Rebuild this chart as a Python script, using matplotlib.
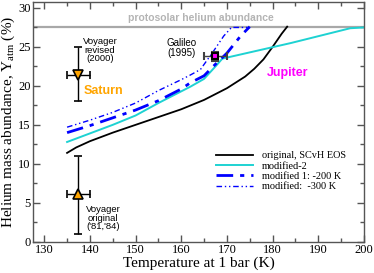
import matplotlib
matplotlib.use("Agg")
import matplotlib.pyplot as plt
from matplotlib.ticker import MultipleLocator

plt.rcParams['font.family'] = ['Liberation Serif', 'DejaVu Serif']
plt.rcParams['mathtext.fontset'] = 'custom'
plt.rcParams['mathtext.rm'] = 'Liberation Serif'
plt.rcParams['mathtext.it'] = 'Liberation Serif:italic'

# --- dane ---
T_orig = [135, 137, 140, 145, 150, 155, 160, 165, 170, 174, 176, 178, 180, 182, 183.2]
Y_orig = [11.4, 12.1, 12.9, 14.0, 15.0, 16.0, 17.0, 18.2, 19.7, 21.2, 22.2, 23.4, 25.0, 26.7, 27.6]

T_mod2 = [135, 140, 145, 150, 155, 160, 162, 165, 167.5, 169, 184, 197, 200]
Y_mod2 = [12.8, 13.9, 15.0, 16.2, 17.8, 19.3, 19.9, 20.9, 22.5, 23.5, 25.5, 27.4, 27.5]

T_mod1 = [135, 140, 145, 150, 155, 160, 162, 165, 167, 170, 173, 175]
Y_mod1 = [14.0, 14.9, 15.9, 16.9, 18.1, 19.6, 20.4, 21.3, 22.5, 24.2, 26.4, 27.6]

T_mod300 = [135, 140, 145, 150, 155, 160, 162, 164.2, 167, 169.3, 171, 175]
Y_mod300 = [14.7, 15.6, 16.6, 17.8, 19.4, 20.8, 21.4, 22.1, 24.4, 26.4, 27.5, 27.5]

labels = ['original, SCvH EOS', 'modified-2', 'modified 1: -200 K', 'modified:  -300 K']

protosolar_Y = 27.5

# Saturn (Voyager) i Jupiter (Galileo)
sat_T = [137.5, 137.5]
sat_Y = [21.4, 6.1]
sat_Terr = [2.5, 2.5]
sat_Yerr = [[3.4, 3.6], [5.1, 4.9]]  # dol, gora
gal_T = 167.5
gal_Y = 23.8
gal_Terr = 2.5
gal_Yerr = 0.6

fig = plt.figure(figsize=(3.74, 2.73), dpi=100)
ax = fig.add_axes([0.089, 0.1146, 0.884, 0.879])

ax.axhline(protosolar_Y, color='#a8a8a8', lw=1.6, zorder=1)

ax.plot(T_orig, Y_orig, color='black', lw=1.3, label=labels[0])
ax.plot(T_mod2, Y_mod2, color='#1ed2d2', lw=1.4, label=labels[1])
ax.plot(T_mod1, Y_mod1, color='#0000ff', lw=2.0, dashes=(6, 2.5, 1.5, 2.5), label=labels[2])
ax.plot(T_mod300, Y_mod300, color='#0000ff', lw=1.0, dashes=(4, 2, 1, 2, 1, 2), label=labels[3])

# Voyager
ax.errorbar(sat_T[0], sat_Y[0], xerr=sat_Terr[0], yerr=[[sat_Yerr[0][0]], [sat_Yerr[0][1]]],
            fmt='v', ms=7, mfc='#ffa500', mec='black', mew=1.2, ecolor='black',
            elinewidth=1.0, capsize=3, capthick=1.0, zorder=5)
ax.errorbar(sat_T[1], sat_Y[1], xerr=sat_Terr[1], yerr=[[sat_Yerr[1][0]], [sat_Yerr[1][1]]],
            fmt='^', ms=7, mfc='#ffa500', mec='black', mew=1.2, ecolor='black',
            elinewidth=1.0, capsize=3, capthick=1.0, zorder=5)
# Galileo
ax.errorbar(gal_T, gal_Y, xerr=gal_Terr, yerr=gal_Yerr,
            fmt='s', ms=5, mfc='#ff00ff', mec='black', mew=1.5, ecolor='#404040',
            elinewidth=1.0, capsize=3, capthick=1.0, zorder=6)

sans = ['Liberation Sans', 'DejaVu Sans']
ax.text(164.2, 28.7, 'protosolar helium abundance', color='#b4b4b4', fontsize=7.5,
        fontweight='bold', family=sans, ha='center', va='center')
ax.text(142.2, 24.6, 'Voyager\nrevised\n(2000)', fontsize=6.8, family=sans,
        ha='center', va='center', linespacing=0.95)
ax.text(142.9, 3.0, "Voyager\noriginal\n('81,'84)", fontsize=6.8, family=sans,
        ha='center', va='center', linespacing=0.95)
ax.text(160.0, 24.9, 'Galileo\n(1995)', fontsize=7, family=sans,
        ha='center', va='center', linespacing=0.95)
ax.text(143.0, 19.3, 'Saturn', color='#ffa500', fontsize=9, fontweight='bold',
        family=sans, ha='center', va='center')
ax.text(183.3, 21.7, 'Jupiter', color='#ff00ff', fontsize=9, fontweight='bold',
        family=sans, ha='center', va='center')

ax.set_xlim(127.6, 200)
ax.set_ylim(0, 30.8)
ax.xaxis.set_major_locator(MultipleLocator(10))
ax.xaxis.set_minor_locator(MultipleLocator(5))
ax.yaxis.set_major_locator(MultipleLocator(5))
ax.yaxis.set_minor_locator(MultipleLocator(2.5))
ax.tick_params(which='both', direction='in', top=True, right=True, colors='#555555',
               labelcolor='black', labelsize=9, pad=2)
ax.tick_params(which='major', length=5, width=1)
ax.tick_params(which='minor', length=3, width=1)
for s in ax.spines.values():
    s.set_color('#555555')
    s.set_linewidth(1)

ax.set_xlabel('Temperature at 1 bar (K)', fontsize=11, labelpad=0)
ax.set_ylabel('Helium mass abundance, Y$_{\\mathrm{atm}}$ (%)', fontsize=11, labelpad=1)

ax.legend(loc='upper left', bbox_to_anchor=(216 / 374, 1 - 151 / 273), bbox_transform=fig.transFigure,
          frameon=False, fontsize=7.4, handlelength=3.6, handletextpad=0.9,
          labelspacing=0.12, borderpad=0, borderaxespad=0)

fig.savefig('out.png', dpi=100)
